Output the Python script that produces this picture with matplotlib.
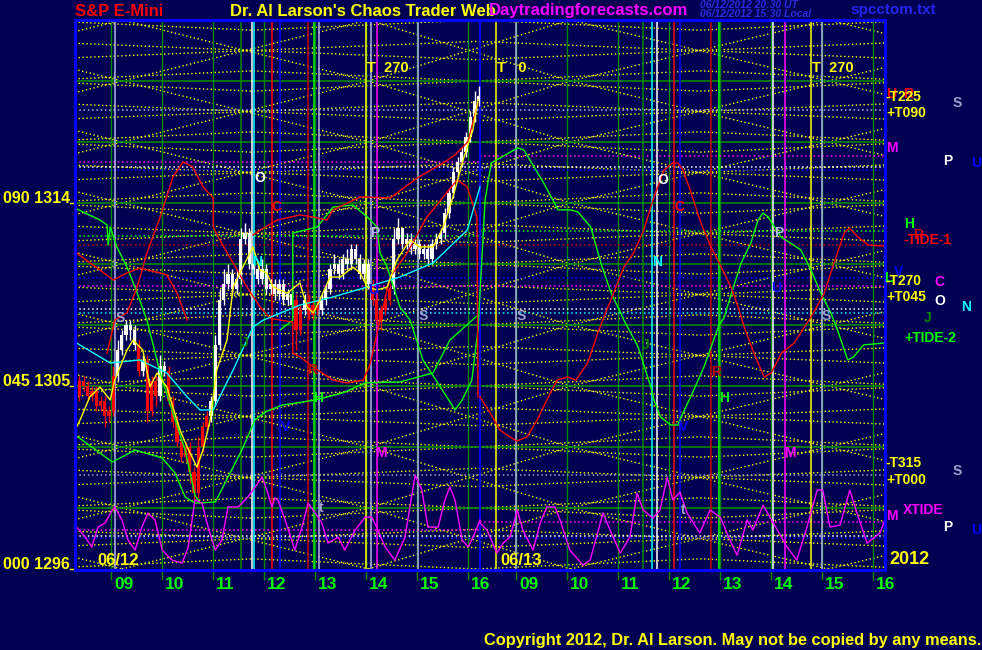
import numpy as np
import matplotlib
matplotlib.use("Agg")
import matplotlib.pyplot as plt

plt.rcParams['font.family'] = ['Liberation Sans', 'DejaVu Sans']
plt.rcParams['font.weight'] = 'bold'

BG = '#000052'
YEL = '#FFFF00'; RED = '#FF0000'; DRED = '#C00000'; GRN = '#00FF00'; DGRN = '#008800'
CYN = '#00FFFF'; MAG = '#FF00FF'; BLU = '#0000FF'; WHT = '#FFFFFF'; LAV = '#B4B4E6'; GRY = '#A0A0C8'

DAY2 = 7.94            # shift of the second session on the time axis (hours)
T0, T1 = 8.30, 24.18
P0, P1 = 1295.95, 1323.0

# ---------------- data ----------------
hours = [9, 10, 11, 12, 13, 14, 15, 16]
hour_labels = ['09', '10', '11', '12', '13', '14', '15', '16']
price_ticks = [1314, 1305, 1296]
price_tick_labels = ['090 1314', '045 1305', '000 1296']

# 5-minute bars of 06/12 starting 8.30 h
opens = [1305.25, 1304.50, 1305.25, 1305.00, 1304.50, 1304.75, 1304.00, 1304.25, 1303.50, 1303.75,
         1305.50, 1306.75, 1307.50, 1308.00, 1307.75, 1307.00, 1305.75, 1306.25, 1303.75, 1305.25,
         1304.50, 1306.00, 1305.75, 1304.25, 1303.25, 1302.25, 1301.50, 1302.00, 1300.75, 1299.75,
         1302.00, 1303.00, 1303.50, 1304.25, 1307.00, 1309.25, 1310.00, 1310.50, 1309.75, 1310.25,
         1312.25, 1312.50, 1311.00, 1310.75, 1310.25, 1310.75, 1309.75, 1310.00, 1309.50, 1310.00,
         1309.25, 1309.50, 1309.25, 1307.75, 1308.75, 1309.25, 1308.50, 1309.00, 1308.75, 1309.25,
         1309.75, 1310.75, 1311.00, 1310.50, 1311.25, 1311.00, 1311.75, 1311.25, 1310.50, 1311.00,
         1310.00, 1309.25, 1308.25, 1308.75, 1309.25, 1309.75, 1312.25, 1312.75, 1312.00, 1312.25,
         1311.75, 1312.00, 1311.50, 1311.75, 1311.25, 1312.00, 1312.25, 1312.50, 1313.50, 1314.50,
         1315.50, 1316.00, 1316.50, 1317.25, 1318.25, 1319.00]
highs = [1305.75, 1305.50, 1305.50, 1305.25, 1305.00, 1305.00, 1304.50, 1304.50, 1304.00, 1306.00,
         1307.25, 1307.75, 1308.25, 1308.25, 1308.00, 1307.25, 1306.50, 1306.50, 1305.50, 1305.50,
         1306.50, 1306.25, 1306.00, 1304.50, 1303.50, 1302.50, 1302.25, 1302.25, 1301.00, 1302.50,
         1303.25, 1303.75, 1304.50, 1307.50, 1309.75, 1310.75, 1311.00, 1310.75, 1310.75, 1312.75,
         1313.00, 1312.75, 1311.25, 1311.00, 1311.25, 1311.00, 1310.25, 1310.25, 1310.25, 1310.25,
         1309.75, 1309.75, 1309.50, 1309.00, 1309.50, 1309.50, 1309.25, 1309.25, 1309.50, 1310.00,
         1311.00, 1311.50, 1311.25, 1311.50, 1311.75, 1312.00, 1312.00, 1311.50, 1311.25, 1311.25,
         1310.25, 1309.50, 1309.00, 1309.50, 1310.00, 1312.75, 1313.25, 1312.75, 1312.50, 1312.50,
         1312.25, 1312.25, 1312.00, 1312.00, 1312.25, 1312.50, 1312.75, 1313.75, 1314.75, 1315.75,
         1316.25, 1316.75, 1317.50, 1318.50, 1319.50, 1319.75]
lows = [1304.00, 1304.25, 1304.75, 1304.25, 1304.25, 1303.75, 1303.75, 1303.00, 1303.25, 1303.50,
        1305.25, 1306.50, 1307.25, 1307.25, 1306.75, 1305.50, 1305.50, 1303.25, 1303.50, 1304.00,
        1304.25, 1305.50, 1304.00, 1303.00, 1302.00, 1301.25, 1301.25, 1300.25, 1299.25, 1299.50,
        1301.75, 1302.75, 1303.25, 1304.00, 1306.75, 1309.00, 1309.75, 1309.50, 1309.50, 1310.00,
        1312.00, 1310.75, 1310.50, 1310.00, 1310.00, 1309.50, 1309.50, 1309.25, 1309.25, 1309.00,
        1309.00, 1308.75, 1306.75, 1307.50, 1308.50, 1308.25, 1308.25, 1308.50, 1308.50, 1309.00,
        1309.50, 1310.50, 1310.25, 1310.25, 1310.75, 1310.75, 1311.00, 1310.25, 1310.25, 1309.75,
        1309.00, 1308.00, 1307.75, 1308.50, 1309.00, 1309.50, 1312.00, 1311.75, 1311.75, 1311.50,
        1311.50, 1311.25, 1311.25, 1311.00, 1311.00, 1311.75, 1312.00, 1312.25, 1313.25, 1314.25,
        1315.25, 1315.75, 1316.25, 1317.00, 1318.00, 1318.75]
closes = [1304.50, 1305.25, 1305.00, 1304.50, 1304.75, 1304.00, 1304.25, 1303.50, 1303.75, 1305.50,
          1306.75, 1307.50, 1308.00, 1307.75, 1307.00, 1305.75, 1306.25, 1303.75, 1305.25, 1304.50,
          1306.00, 1305.75, 1304.25, 1303.25, 1302.25, 1301.50, 1302.00, 1300.75, 1299.75, 1302.00,
          1303.00, 1303.50, 1304.25, 1307.00, 1309.25, 1310.00, 1310.50, 1309.75, 1310.25, 1312.25,
          1312.50, 1311.00, 1310.75, 1310.25, 1310.75, 1309.75, 1310.00, 1309.50, 1310.00, 1309.25,
          1309.50, 1309.00, 1307.75, 1308.75, 1309.25, 1308.50, 1309.00, 1308.75, 1309.25, 1309.75,
          1310.75, 1311.00, 1310.50, 1311.25, 1311.00, 1311.75, 1311.25, 1310.50, 1311.00, 1310.00,
          1309.25, 1308.25, 1308.75, 1309.25, 1309.75, 1312.25, 1312.75, 1312.00, 1312.25, 1311.75,
          1312.00, 1311.50, 1311.75, 1311.25, 1312.00, 1312.25, 1312.50, 1313.50, 1314.50, 1315.50,
          1316.00, 1316.50, 1317.25, 1318.25, 1319.00, 1319.25]

# day-1 averages / forecast curves (clock hour, price)
cyan_t = [8.30, 8.99, 9.57, 10.10, 10.50, 10.75, 11.01, 11.40, 11.79, 11.99, 12.71, 13.36, 14.03, 14.67, 15.32, 15.99, 16.24]
cyan_p = [1307.16, 1306.13, 1306.28, 1305.64, 1304.46, 1303.82, 1303.82, 1305.79, 1307.90, 1308.24, 1308.98, 1309.38, 1309.87, 1310.36, 1311.05, 1312.67, 1314.79]

yel_t = [8.30, 8.40, 8.59, 8.79, 8.99, 9.08, 9.32, 9.44, 9.63, 9.77, 9.91, 10.10, 10.22, 10.36, 10.50, 10.69, 10.81, 10.95, 11.08, 11.28,
         11.40, 11.59, 11.79, 11.93, 12.06, 12.18, 12.46, 12.71, 12.85, 12.97, 13.10, 13.30, 13.50, 13.75, 13.89, 14.03, 14.22, 14.42, 14.61, 14.87,
         15.06, 15.32, 15.52, 15.71, 15.91, 16.10, 16.20]
yel_p = [1302.83, 1303.33, 1304.46, 1304.95, 1304.31, 1305.29, 1306.77, 1307.26, 1306.77, 1304.95, 1305.64, 1304.95, 1303.96, 1302.83, 1302.00, 1301.01, 1301.85, 1303.33, 1305.79, 1307.26,
         1309.87, 1310.85, 1311.84, 1310.70, 1310.56, 1309.87, 1309.57, 1310.07, 1308.88, 1308.59, 1309.23, 1310.36, 1310.36, 1310.85, 1310.56, 1309.87, 1309.72, 1309.87, 1311.20, 1312.18,
         1311.84, 1311.84, 1312.82, 1314.30, 1316.12, 1317.59, 1319.07]

green_a_t = [8.30, 8.63, 9.03, 9.48, 10.01, 10.26, 10.46, 10.65, 11.05, 11.30, 11.57, 11.83, 12.03, 12.36, 13.01, 13.54, 13.99, 14.67, 15.32, 15.65, 16.20]
green_a_p = [1302.59, 1302.00, 1301.26, 1301.85, 1301.46, 1300.72, 1299.54, 1299.24, 1299.29, 1300.52, 1301.85, 1303.33, 1303.72, 1304.06, 1304.31, 1304.65, 1305.15, 1305.20, 1305.64, 1307.26, 1308.49]

green_b_t = [8.30, 8.79, 8.93, 8.95, 8.99, 9.12, 9.32, 9.52, 9.71, 9.97, 10.20, 10.46, 10.65, 10.75]
green_b_p = [1313.75, 1313.16, 1312.92, 1311.93, 1312.82, 1311.84, 1310.85, 1309.57, 1308.24, 1305.64, 1303.82, 1301.85, 1299.64, 1299.24]

tide2_d1_t = [12.32, 12.57, 12.57, 13.05, 13.36, 13.75, 14.03, 14.22, 14.28, 14.42, 14.67, 14.87, 15.12, 15.59, 15.75, 15.89, 16.08, 16.20]
tide2_d1_p = [1307.75, 1308.24, 1312.52, 1312.82, 1313.80, 1313.90, 1313.31, 1312.82, 1311.54, 1310.85, 1308.88, 1308.24, 1306.28, 1304.46, 1303.82, 1304.31, 1305.29, 1307.75]
tide2_d2_t = [8.40, 8.52, 8.69, 9.04, 9.16, 9.36, 9.55, 9.83, 10.08, 10.22, 10.47, 10.67, 10.87, 11.06, 11.12, 11.40, 11.65, 11.71, 11.84, 12.04,
              12.18, 12.24, 12.43, 12.69, 12.97, 13.09, 13.23, 13.42, 13.61, 13.75, 13.85, 13.95, 14.20, 14.59, 14.79, 14.98, 15.18, 15.31, 15.51, 15.62,
              15.82, 16.21]
tide2_d2_p = [1314.15, 1315.97, 1316.21, 1316.71, 1316.61, 1315.77, 1314.98, 1313.66, 1313.66, 1313.56, 1312.82, 1311.05, 1309.57, 1308.59, 1308.24, 1306.92, 1304.95, 1304.31, 1303.47, 1303.08,
              1303.08, 1303.47, 1304.46, 1305.93, 1307.90, 1308.39, 1309.57, 1311.05, 1312.03, 1313.16, 1313.51, 1313.31, 1312.33, 1311.69, 1310.70, 1309.57, 1308.59, 1307.75, 1306.28, 1306.42,
              1307.02, 1307.11]

red_a_t = [8.30, 8.79, 9.05, 9.32, 9.57, 9.97, 10.10, 10.30, 10.50]
red_a_p = [1311.59, 1310.70, 1310.21, 1310.56, 1310.80, 1310.56, 1310.46, 1309.57, 1308.24]

red_b_t = [8.93, 9.08, 9.32, 9.52, 9.71, 9.97, 10.22, 10.42, 10.61, 10.81, 11.01, 11.01, 11.14, 11.40, 11.67, 11.93, 12.12, 12.32, 12.57, 12.57,
           12.71, 12.97, 13.36, 13.63, 13.95, 14.08, 14.28, 14.48, 14.81, 15.20, 15.52, 15.79, 15.99, 16.18, 16.20]
red_b_p = [1306.62, 1308.24, 1308.60, 1309.87, 1311.54, 1313.31, 1315.28, 1316.02, 1315.77, 1314.79, 1314.25, 1312.82, 1312.18, 1311.05, 1309.87, 1308.88, 1308.34, 1308.24, 1308.15, 1306.62,
           1306.43, 1305.93, 1305.29, 1305.15, 1305.29, 1306.03, 1308.24, 1310.36, 1311.54, 1313.31, 1314.30, 1315.13, 1314.79, 1313.31, 1304.46]

red_c_t = [11.79, 11.93, 12.26, 12.71, 12.97, 13.24, 13.36, 13.89, 14.48, 15.01, 15.52, 15.75, 16.00, 16.20]
red_c_p = [1312.43, 1312.67, 1313.16, 1313.41, 1313.31, 1313.16, 1313.66, 1314.30, 1314.25, 1315.23, 1315.97, 1316.36, 1317.00, 1318.92]

tide1_d2_t = [8.30, 8.50, 8.69, 8.89, 9.02, 9.22, 9.42, 9.61, 9.81, 10.02, 10.18, 10.41, 10.61, 10.73, 10.92, 11.12, 11.31, 11.51, 11.71, 11.91,
              12.08, 12.18, 12.28, 12.44, 12.63, 12.83, 13.03, 13.22, 13.36, 13.48, 13.67, 13.81, 13.87, 14.01, 14.21, 14.46, 14.66, 14.79, 15.05, 15.24,
              15.44, 15.54, 15.71, 15.91, 16.22]
tide1_d2_p = [1304.46, 1303.68, 1302.83, 1302.49, 1302.29, 1302.49, 1303.33, 1304.31, 1305.29, 1305.44, 1305.29, 1306.13, 1307.61, 1308.39, 1309.57, 1310.85, 1311.54, 1312.67, 1314.30, 1315.62,
              1315.97, 1315.97, 1315.62, 1314.49, 1313.02, 1311.84, 1310.85, 1309.87, 1308.88, 1307.90, 1306.62, 1305.79, 1305.44, 1305.64, 1306.62, 1307.11, 1307.90, 1308.39, 1309.57, 1311.05,
              1312.52, 1312.77, 1312.33, 1311.93, 1311.88]

xtide_d1_t = [8.30, 8.50, 8.63, 8.75, 8.89, 9.03, 9.08, 9.22, 9.34, 9.48, 9.61, 9.73, 9.87, 10.01, 10.20, 10.40, 10.52, 10.65, 10.79, 10.91,
              11.05, 11.18, 11.30, 11.50, 11.69, 11.83, 11.97, 12.08, 12.16, 12.22, 12.28, 12.42, 12.61, 12.75, 12.87, 13.01, 13.14, 13.26, 13.46, 13.59,
              13.79, 13.99, 14.12, 14.24, 14.38, 14.57, 14.77, 14.91, 14.97, 15.10, 15.22, 15.42, 15.55, 15.65, 15.75, 15.89, 16.01, 16.14, 16.24]
xtide_d1_p = [1298.16, 1297.57, 1297.08, 1298.06, 1298.26, 1298.90, 1299.05, 1298.41, 1297.42, 1296.93, 1298.06, 1298.75, 1298.41, 1296.93, 1296.44, 1296.29, 1297.08, 1299.39, 1299.24, 1298.06,
              1296.93, 1297.42, 1299.05, 1299.05, 1299.54, 1300.03, 1300.52, 1299.73, 1299.05, 1299.49, 1299.39, 1298.41, 1296.93, 1298.06, 1299.24, 1298.75, 1298.26, 1297.27, 1297.57, 1296.93,
              1297.91, 1298.55, 1298.55, 1297.91, 1297.08, 1296.44, 1297.57, 1299.73, 1300.62, 1299.88, 1298.06, 1298.06, 1299.39, 1300.03, 1299.39, 1297.42, 1297.08, 1297.77, 1298.41]
xtide_d2_t = [8.30, 8.44, 8.63, 8.75, 8.89, 9.03, 9.14, 9.34, 9.48, 9.61, 9.77, 9.87, 10.06, 10.32, 10.46, 10.71, 10.85, 11.05, 11.24, 11.38,
              11.50, 11.69, 11.83, 11.97, 12.08, 12.22, 12.36, 12.61, 12.81, 13.01, 13.20, 13.34, 13.54, 13.65, 13.85, 14.05, 14.32, 14.51, 14.71, 14.91,
              15.02, 15.16, 15.36, 15.55, 15.69, 15.89, 16.14, 16.24]
xtide_d2_p = [1298.26, 1297.91, 1296.78, 1297.27, 1297.57, 1298.90, 1297.91, 1296.93, 1298.26, 1299.05, 1299.05, 1298.41, 1296.93, 1296.19, 1296.44, 1298.75, 1297.91, 1296.78, 1297.57, 1299.73,
              1298.90, 1298.50, 1298.90, 1300.52, 1299.39, 1299.78, 1298.75, 1297.77, 1298.90, 1298.55, 1297.42, 1296.68, 1298.41, 1297.91, 1299.14, 1298.26, 1297.08, 1296.44, 1298.06, 1299.88,
              1299.88, 1298.06, 1298.16, 1299.88, 1298.75, 1297.27, 1297.77, 1298.41]

# vertical event lines (clock hours)
vl_day1_t = [9.08, 11.55, 11.77, 11.81, 12.16, 12.32, 12.87, 12.99, 13.08, 14.01, 14.10, 14.22, 15.03]
vl_day2_t = [8.61, 9.01, 11.50, 11.67, 11.77, 12.11, 12.23, 12.83, 12.99, 14.05, 14.27, 14.78, 15.00]
# horizontal price levels
hl_full_p = [1318.57, 1315.77, 1315.60, 1311.93, 1310.30, 1309.90, 1308.80, 1308.60, 1300.60, 1297.60, 1297.50]
hl_day1_p = [1316.00, 1312.40, 1297.90]
hl_day2_p = [1316.30, 1312.60, 1298.30]
grid_p = [1299, 1302, 1305, 1308, 1311, 1314, 1317, 1320]

# styles (kept apart from data)
vl_day1_c = [LAV, DGRN, WHT, CYN, RED, BLU, DRED, GRN, LAV, YEL, LAV, MAG, LAV]
vl_day2_c = [YEL, LAV, DGRN, CYN, WHT, RED, BLU, DRED, GRN, WHT, MAG, YEL, LAV]
hl_full_c = [LAV, WHT, BLU, DRED, BLU, MAG, WHT, CYN, GRY, WHT, BLU]
hl_day1_c = [MAG, GRN, MAG]
hl_day2_c = [MAG, GRN, MAG]

# ---------------- figure ----------------
W, H = 982, 650
fig = plt.figure(figsize=(W / 100, H / 100), dpi=100, facecolor=BG)
ax = fig.add_axes([75 / W, 80 / H, 810 / W, 550 / H], facecolor=BG)
ax.set_xlim(T0, T1)
ax.set_ylim(P0, P1)
for s in ax.spines.values():
    s.set_color(BLU)
    s.set_linewidth(2.2)
    s.set_zorder(10)

def d2(ts):
    return [t + DAY2 for t in ts]

DOT = (0, (1, 1.8))

# yellow harmonic lattice (geometry)
levA = np.arange(1293, 1328, 3)
nodesA = [4.39, 9.22, 14.05, 18.01, 23.06, 28.11]
for a, b in zip(nodesA[:-1], nodesA[1:]):
    for lo, hi in zip(levA[:-1], levA[1:]):
        ax.plot([a, b], [lo, hi], color=YEL, lw=1.0, ls=DOT, zorder=1)
        ax.plot([a, b], [hi, lo], color=YEL, lw=1.0, ls=DOT, zorder=1)
nodesB = [7.38, 11.77, 16.16, 20.55, 24.94]
for m in np.arange(1294.5, 1326, 3):
    for s in (1, -1):
        ax.plot(nodesB, [m + s * 0.45, m, m + s * 0.45, m, m + s * 0.45], color=YEL, lw=1.0, ls=DOT, zorder=1)
for g in levA:
    for s in (1, -1):
        ax.plot(nodesB, [g, g + s * 0.5, g, g + s * 0.5, g], color=YEL, lw=1.0, ls=DOT, zorder=1)

# grid
for p in grid_p:
    ax.axhline(p, color=DGRN, lw=1.2, zorder=2)
for h in hours:
    ax.axvline(h, color=DGRN, lw=1.0, zorder=2)
    ax.axvline(h + DAY2, color=DGRN, lw=1.0, zorder=2)

# horizontal dotted levels
for p, c in zip(hl_full_p, hl_full_c):
    ax.plot([T0, T1], [p, p], color=c, lw=1.1, ls=DOT, zorder=2)
for p, c in zip(hl_day1_p, hl_day1_c):
    ax.plot([T0, 16.24], [p, p], color=c, lw=1.1, ls=DOT, zorder=2)
for p, c in zip(hl_day2_p, hl_day2_c):
    ax.plot([16.24, T1], [p, p], color=c, lw=1.1, ls=DOT, zorder=2)

# vertical event lines
for t, c in zip(vl_day1_t, vl_day1_c):
    ax.axvline(t, color=c, lw=1.1, zorder=3)
for t, c in zip(d2(vl_day2_t), vl_day2_c):
    ax.axvline(t, color=c, lw=1.1, zorder=3)
ax.axvline(16.24, color=BLU, lw=1.3, zorder=3)

# price bars
bar_t = T0 + np.arange(len(closes)) * 5 / 60
o = np.array(opens); c = np.array(closes); hi = np.array(highs); lo = np.array(lows)
above = c >= np.interp(bar_t, cyan_t, cyan_p)
cols = np.where(above, WHT, RED)
ax.vlines(bar_t, lo, hi, colors=cols, lw=1.0, zorder=4)
body_lo = np.minimum(o, c)
body_h = np.maximum(np.abs(c - o), 0.12)
ax.bar(bar_t, body_h, bottom=body_lo, width=0.065, color=cols, zorder=4, linewidth=0)

# curves
ax.plot(green_a_t, green_a_p, color=GRN, lw=1.0, zorder=5)
ax.plot(green_b_t, green_b_p, color=GRN, lw=1.0, zorder=5)
ax.plot(tide2_d1_t + d2(tide2_d2_t), tide2_d1_p + tide2_d2_p, color=GRN, lw=1.0, zorder=5)
ax.plot(red_a_t, red_a_p, color=RED, lw=1.0, zorder=5)
ax.plot(red_b_t, red_b_p, color=RED, lw=1.0, zorder=5)
ax.plot(red_c_t, red_c_p, color=RED, lw=1.0, zorder=5)
ax.plot(d2(tide1_d2_t), tide1_d2_p, color=RED, lw=1.0, zorder=5)
ax.plot(cyan_t, cyan_p, color=CYN, lw=1.0, zorder=5)
ax.plot(yel_t, yel_p, color=YEL, lw=1.0, zorder=5)
ax.plot(xtide_d1_t + d2(xtide_d2_t), xtide_d1_p + xtide_d2_p, color=MAG, lw=1.0, zorder=5)

# in-plot letter markers
markers = [
    (11.93, 1315.23, 'O', WHT), (12.24, 1313.80, 'C', RED), (11.87, 1311.10, 'N', CYN),
    (14.18, 1312.52, 'P', LAV), (9.18, 1308.34, 'S', GRY), (15.12, 1308.44, 'S', GRY),
    (11.63, 1307.11, 'J', DGRN), (12.95, 1305.79, 'R', DRED), (13.06, 1304.41, 'H', GRN),
    (12.42, 1302.98, 'V', BLU), (14.30, 1301.70, 'M', MAG), (13.12, 1299.00, 't', GRY),
    (14.14, 1309.72, 'U', BLU),
    (19.83, 1315.13, 'O', WHT), (20.14, 1313.80, 'C', RED), (19.71, 1311.10, 'N', CYN),
    (22.09, 1312.52, 'P', LAV), (17.04, 1308.44, 'S', GRY), (23.02, 1308.44, 'S', GRY),
    (19.49, 1307.02, 'J', DGRN), (20.87, 1305.69, 'R', DRED), (21.03, 1304.41, 'H', GRN),
    (20.24, 1302.98, 'V', BLU), (22.32, 1301.70, 'M', MAG), (20.22, 1298.90, 't', GRY),
    (22.04, 1309.82, 'U', BLU),
]
for t, p, s, col in markers:
    ax.text(t, p, s, color=col, fontsize=10, ha='center', va='center', zorder=6)

for t, s in [(14.03, 'T  270'), (16.57, 'T   0'), (22.74, 'T  270')]:
    ax.text(t, 1320.64, s, color=YEL, fontsize=10.5, ha='left', va='center', zorder=6)
ax.text(8.73, 1296.44, '06/12', color=YEL, fontsize=12, ha='left', va='center', zorder=6)
ax.text(16.63, 1296.44, '06/13', color=YEL, fontsize=12, ha='left', va='center', zorder=6)

# axes ticks and labels
xt = hours + d2(hours)
ax.set_xticks(xt)
ax.set_xticklabels([])
ax.tick_params(axis='x', colors=DGRN, length=7, width=1.0, direction='out')
ax.set_yticks([])
for t, lab in zip(xt, hour_labels * 2):
    ax.text(t + 0.07, -0.012, lab, transform=ax.get_xaxis_transform(), color=GRN,
            fontsize=12.5, ha='left', va='top', clip_on=False)
for p, lab in zip(price_ticks, price_tick_labels):
    ax.text(-0.006, p, lab, transform=ax.get_yaxis_transform(), color=YEL,
            fontsize=11.5, ha='right', va='baseline', clip_on=False)
    ax.plot([-0.006, 0], [p, p], transform=ax.get_yaxis_transform(), color=YEL, lw=1, clip_on=False)

def ftext(x, y, s, color, size, ha='left', **kw):
    fig.text(x / W, 1 - y / H, s, color=color, fontsize=size, ha=ha, va='center', **kw)

ftext(75, 11, 'S&P E-Mini', RED, 12)
ftext(230, 11, "Dr. Al Larson's Chaos Trader Web", YEL, 12)
ftext(489, 11, 'Daytradingforecasts.com', MAG, 12)
ftext(700, 5, '06/12/2012 20:30 UT', '#2A2AE0', 7.5, style='italic')
ftext(700, 14, '06/12/2012 15:30 Local', '#2A2AE0', 7.5, style='italic')
ftext(850, 10, 'spcctom.txt', '#2424EE', 11)
ftext(981, 640, 'Copyright 2012, Dr. Al Larson. May not be copied by any means.', YEL, 11.8, ha='right')

side = [
    (886, 94, 'U', RED, 10), (903, 94, 'R', RED, 10), (886, 97, '-T225', YEL, 10),
    (886, 113, '+T090', YEL, 10), (953, 103, 'S', GRY, 10), (886, 148, 'M', MAG, 10),
    (943, 161, 'P', WHT, 10), (971, 163, 'U', BLU, 10), (904, 224, 'H', GRN, 10),
    (913, 235, 'R', DRED, 10), (903, 240, '-TIDE-1', RED, 10), (894, 272, 'V', BLU, 10),
    (884, 278, 'L', GRN, 10), (886, 281, '-T270', YEL, 10), (934, 282, 'C', MAG, 10),
    (886, 297, '+T045', YEL, 10), (934, 301, 'O', WHT, 10), (961, 307, 'N', CYN, 10),
    (924, 318, 'J', DGRN, 10), (904, 338, '+TIDE-2', GRN, 10), (886, 463, '-T315', YEL, 10),
    (953, 471, 'S', GRY, 10), (886, 480, '+T000', YEL, 10), (886, 516, 'M', MAG, 10),
    (903, 510, 'XTIDE', MAG, 10), (943, 527, 'P', WHT, 10), (971, 530, 'U', BLU, 10),
    (889, 559, '2012', YEL, 13),
]
for x, y, s, col, sz in side:
    ftext(x, y, s, col, sz)

fig.savefig('out.png', dpi=100, facecolor=BG)
